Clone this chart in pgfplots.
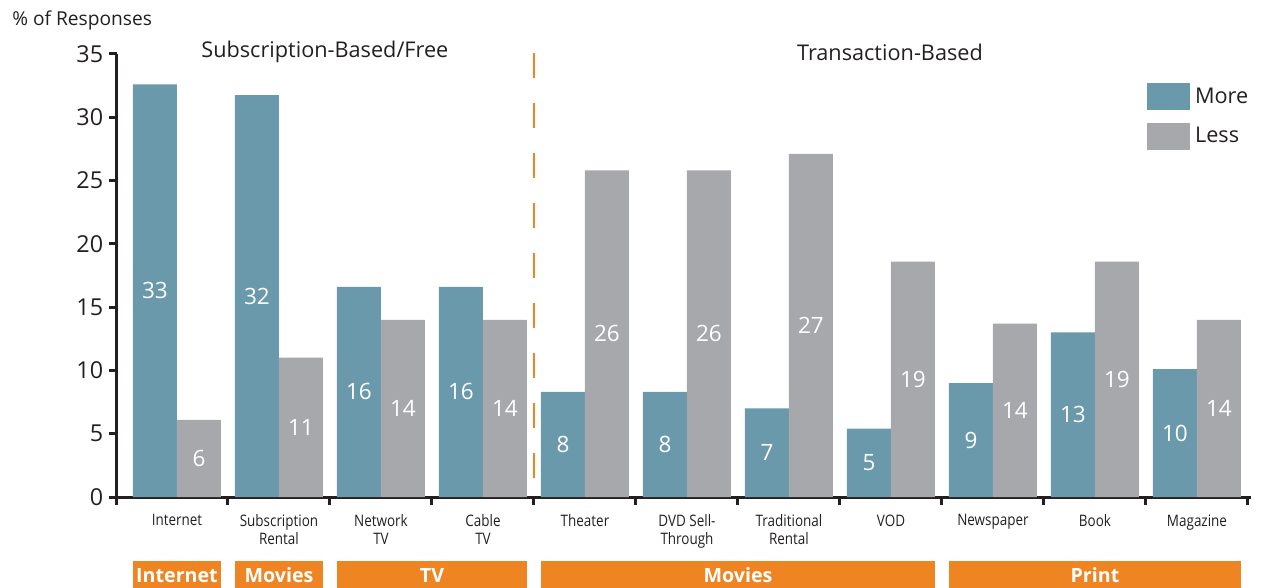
\documentclass[border=0pt]{standalone}
\usepackage{fontspec}
\setmainfont{Open Sans}
\newfontfamily\condfont[FakeStretch=0.85]{Open Sans}
\usepackage{pgfplots}
\pgfplotsset{compat=1.18}
\usepackage{pgfplotstable}

\definecolor{cblue}{HTML}{6B99AC}
\definecolor{cgray}{HTML}{A7A8AC}
\definecolor{corange}{HTML}{EE8522}
\definecolor{cdark}{HTML}{231F20}

\pgfplotstableread{
x more less lm ll
0 32.6 6.1 33 6
1 31.75 11.0 32 11
2 16.6 14.0 16 14
3 16.6 14.0 16 14
4 8.3 25.8 8 26
5 8.3 25.8 8 26
6 7.0 27.1 7 27
7 5.4 18.6 5 19
8 9.0 13.7 9 14
9 13.0 18.6 13 19
10 10.1 14.0 10 14
}\datatable

\begin{document}
\begin{tikzpicture}
\begin{axis}[
  x=61.2pt, y=7.596pt,
  xmin=-0.588, xmax=10.53, ymin=0, ymax=35,
  enlargelimits=false,
  clip=false,
  axis x line*=bottom, axis y line*=left,
  axis line style={-, line width=1.8pt, cdark},
  ybar=0pt, bar width=26.4pt,
  tick align=outside,
  major tick length=4.8pt,
  tick style={line width=1.8pt, cdark},
  ytick={0,5,...,35},
  yticklabel style={font=\fontsize{14}{16}\selectfont, text=cdark},
  /pgf/number format/assume math mode=true,
  xtick={-0.588,0.5,1.5,2.5,3.5,4.5,5.5,6.5,7.5,8.5,9.5,10.5},
  xticklabels={},
  extra x ticks={0,1,2,3,4,5,6,7,8,9,10},
  extra x tick labels={Internet,{Subscription\\Rental},{Network\\TV},{Cable\\TV},Theater,{DVD Sell-\\Through},{Traditional\\Rental},VOD,Newspaper,Book,Magazine},
  extra x tick style={major tick length=0pt,
    xticklabel style={align=center, font=\condfont\fontsize{9.5}{11}\selectfont, text=cdark, yshift=-7pt}},
  legend style={at={(rel axis cs:0.908,0.936)}, anchor=north west, draw=none, fill=none,
    font=\fontsize{13}{15}\selectfont, text=cdark, row sep=7pt, inner sep=0pt,
    nodes={inner sep=3pt}},
  legend cell align=left,
  legend image code/.code={\fill[#1] (0pt,-8.1pt) rectangle (25.8pt,8.1pt);},
  point meta=explicit symbolic,
  visualization depends on=y \as \rawy,
  nodes near coords,
  every node near coord/.append style={shift={(axis direction cs:0,-\rawy/2)}, anchor=center,
    font=\fontsize{13.5}{15}\selectfont, text=white},
]
\addplot[fill=cblue, draw=none] table[x=x, y=more, meta=lm] {\datatable};
\addplot[fill=cgray, draw=none] table[x=x, y=less, meta=ll] {\datatable};
\legend{More, Less}

\draw[corange, line width=1.2pt, dash pattern=on 15pt off 15pt] (axis cs:3.5,35.07) -- (axis cs:3.5,0);
\node[font=\fontsize{13}{15}\selectfont, text=cdark] at (axis cs:1.45,35.15) {Subscription-Based/Free};
\node[font=\fontsize{13}{15}\selectfont, text=cdark] at (axis cs:6.99,35.15) {Transaction-Based};
\node[font=\fontsize{11.5}{13}\selectfont, text=cdark, anchor=west, inner sep=0pt] at (axis cs:-1.618,37.65) {\% of Responses};

\fill[corange] (axis cs:-0.431,-5.06) rectangle (axis cs:0.431,-7.4);
\fill[corange] (axis cs:0.569,-5.06) rectangle (axis cs:1.431,-7.4);
\fill[corange] (axis cs:1.569,-5.06) rectangle (axis cs:3.431,-7.4);
\fill[corange] (axis cs:3.569,-5.06) rectangle (axis cs:7.431,-7.4);
\fill[corange] (axis cs:7.569,-5.06) rectangle (axis cs:10.431,-7.4);
\begin{scope}[every node/.style={font=\bfseries\fontsize{11.8}{14}\selectfont, text=white}]
\node at (axis cs:0,-6.2) {Internet};
\node at (axis cs:1,-6.2) {Movies};
\node at (axis cs:2.5,-6.2) {TV};
\node at (axis cs:5.5,-6.2) {Movies};
\node at (axis cs:9,-6.2) {Print};
\end{scope}
\coordinate (O) at (rel axis cs:0,0);
\end{axis}
\pgfresetboundingbox
\path (O) ++(-70.2pt,-54.6pt) rectangle ++(756.6pt,352.8pt);
\end{tikzpicture}
\end{document}
